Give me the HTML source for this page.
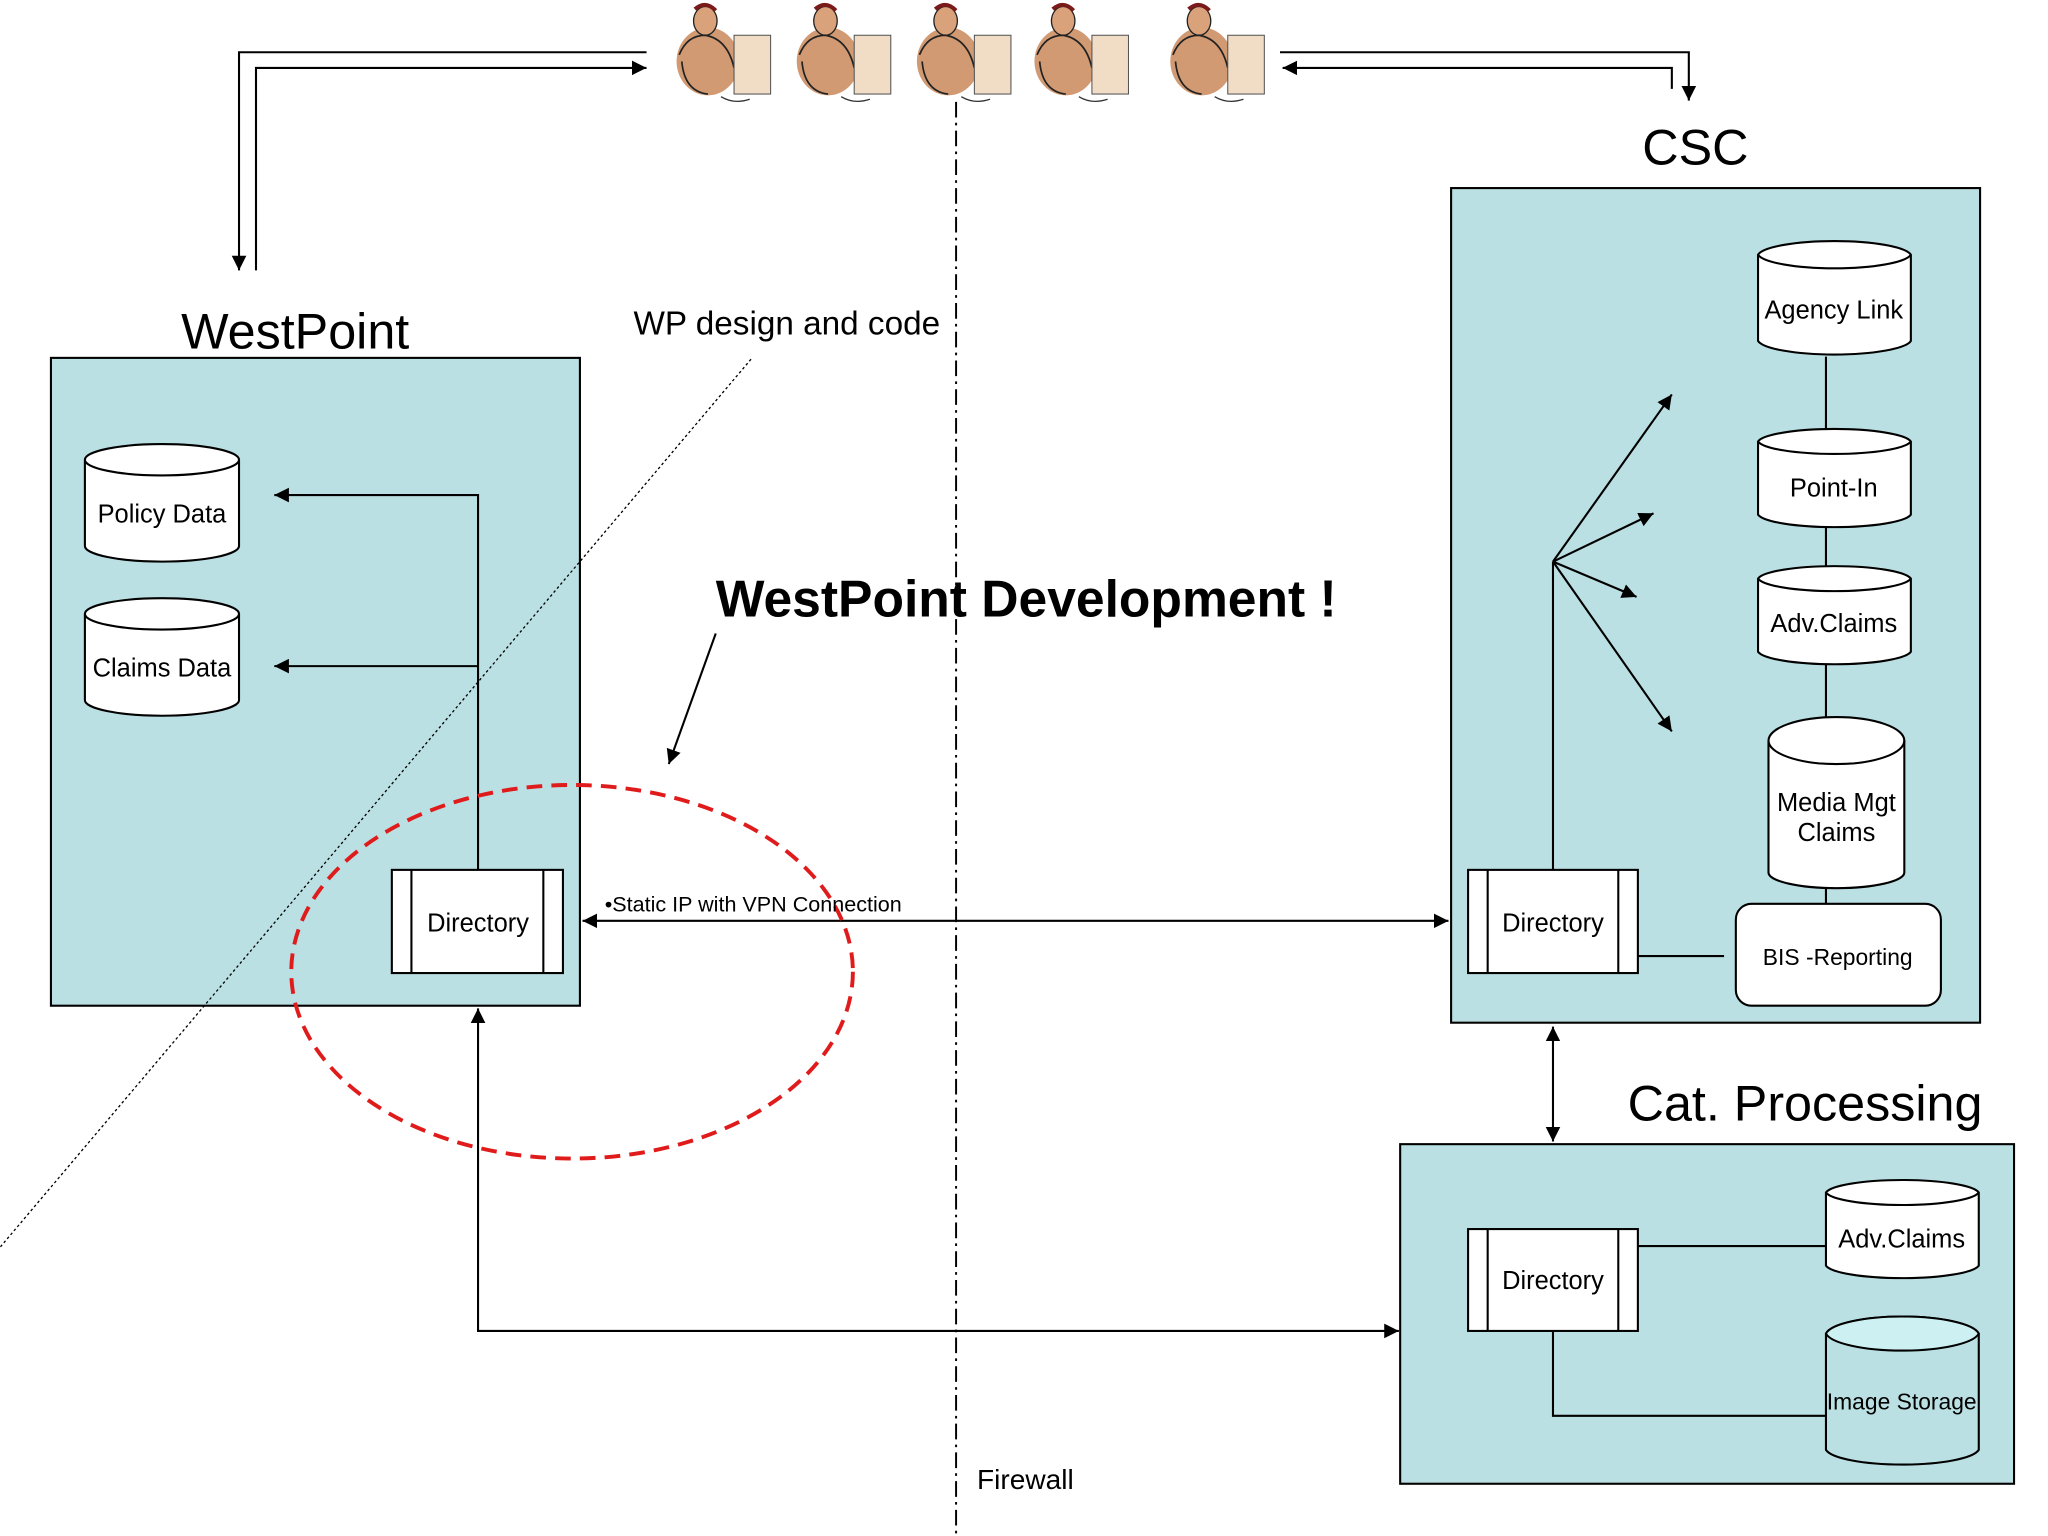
<!DOCTYPE html>
<html><head><meta charset="utf-8"><style>html,body{margin:0;padding:0;background:#fff}svg{display:block}</style></head>
<body>
<svg width="2048" height="1536" viewBox="0 0 1568 1176" preserveAspectRatio="none" xmlns="http://www.w3.org/2000/svg" font-family="Liberation Sans, sans-serif">
<defs>
<marker id="a" viewBox="0 0 10 10" refX="10" refY="5" markerWidth="7" markerHeight="7" orient="auto-start-reverse"><path d="M0,0L10,5L0,10z" fill="#000"/></marker>
<g id="fig">
<ellipse cx="30" cy="45" rx="24" ry="26" fill="#c9885a" opacity="0.85"/>
<ellipse cx="28" cy="14" rx="9" ry="11" fill="#d9a27a" stroke="#222" stroke-width="1"/>
<path d="M20,5 Q28,-2 36,6" stroke="#7a1a1a" stroke-width="3" fill="none"/>
<path d="M8,40 Q14,25 28,25 Q45,28 50,50 M10,45 Q12,68 30,70" stroke="#222" stroke-width="1.3" fill="none"/>
<rect x="50" y="25" width="28" height="45" fill="#f1dcc6" stroke="#555" stroke-width="0.8"/>
<path d="M40,72 Q50,78 62,74" stroke="#333" fill="none"/>
</g>
</defs>
<g stroke="#000" stroke-width="1.6" fill="none">
<polyline points="495,40 183,40 183,207" marker-end="url(#a)"/>
<polyline points="196,207 196,52 495,52" marker-end="url(#a)"/>
<polyline points="980,40 1293,40 1293,77" marker-end="url(#a)"/>
<polyline points="1280,68 1280,52 982,52" marker-end="url(#a)"/>
</g>
<use href="#fig" x="512" y="2"/><use href="#fig" x="604" y="2"/><use href="#fig" x="696" y="2"/><use href="#fig" x="786" y="2"/><use href="#fig" x="890" y="2"/>
<line x1="732" y1="78" x2="732" y2="1176" stroke="#000" stroke-width="1.5" stroke-dasharray="12,4,2,4"/>
<g fill="#bbe0e3" stroke="#000" stroke-width="1.6">
<rect x="39" y="274" width="405" height="496"/>
<rect x="1111" y="144" width="405" height="639"/>
<rect x="1072" y="876" width="470" height="260"/>
</g>
<g font-size="38.5" text-anchor="middle">
<text x="226" y="267">WestPoint</text>
<text x="1298" y="126">CSC</text>
<text x="1382" y="858">Cat. Processing</text>
</g>
<g stroke="#000" stroke-width="1.6" fill="none">
<line x1="1398" y1="273" x2="1398" y2="692"/>
<polyline points="366,666 366,379 210,379" marker-end="url(#a)"/>
<line x1="366" y1="510" x2="210" y2="510" marker-end="url(#a)"/>
<line x1="446" y1="705" x2="1109" y2="705" marker-start="url(#a)" marker-end="url(#a)"/>
<polyline points="1071,1019 366,1019 366,772" marker-start="url(#a)" marker-end="url(#a)"/>
<line x1="1189" y1="786" x2="1189" y2="874" marker-start="url(#a)" marker-end="url(#a)"/>
<line x1="1189" y1="666" x2="1189" y2="430"/>
<line x1="1189" y1="430" x2="1280" y2="302" marker-end="url(#a)"/>
<line x1="1189" y1="430" x2="1266" y2="393" marker-end="url(#a)"/>
<line x1="1189" y1="430" x2="1253" y2="457" marker-end="url(#a)"/>
<line x1="1189" y1="430" x2="1280" y2="560" marker-end="url(#a)"/>
<line x1="1254" y1="732" x2="1320" y2="732"/>
<line x1="1254" y1="954" x2="1398" y2="954"/>
<polyline points="1189,1019 1189,1084 1398,1084"/>
<line x1="548" y1="485" x2="512" y2="585" marker-end="url(#a)"/>
</g>
<g stroke="#000" stroke-width="1.6" fill="#fff">
<path d="M65,352 A59,12 0 0 1 183,352 V418 A59,12 0 0 1 65,418 Z"/><path d="M65,352 A59,12 0 0 0 183,352" fill="none"/>
<path d="M65,470 A59,12 0 0 1 183,470 V536 A59,12 0 0 1 65,536 Z"/><path d="M65,470 A59,12 0 0 0 183,470" fill="none"/>
<path d="M1346,195 A59,12 0 0 1 1463,195 V261 A59,12 0 0 1 1346,261 Z"/><path d="M1346,195 A59,12 0 0 0 1463,195" fill="none"/>
<path d="M1346,338 A59,11 0 0 1 1463,338 V394 A59,11 0 0 1 1346,394 Z"/><path d="M1346,338 A59,11 0 0 0 1463,338" fill="none"/>
<path d="M1346,443 A59,11 0 0 1 1463,443 V499 A59,11 0 0 1 1346,499 Z"/><path d="M1346,443 A59,11 0 0 0 1463,443" fill="none"/>
<path d="M1354,567 A52,18 0 0 1 1458,567 V668 A52,12 0 0 1 1354,668 Z"/><path d="M1354,567 A52,18 0 0 0 1458,567" fill="none"/>
<path d="M1398,913 A59,11 0 0 1 1515,913 V969 A59,11 0 0 1 1398,969 Z"/><path d="M1398,913 A59,11 0 0 0 1515,913" fill="none"/>
<path d="M1398,1021 A59,15 0 0 1 1515,1021 V1110 A59,13 0 0 1 1398,1110 Z" fill="#bbe0e3"/><path d="M1398,1021 A59,15 0 0 1 1515,1021 A59,15 0 0 1 1398,1021 Z" fill="#cdf1f3"/>
<rect x="1329" y="692" width="157" height="78" rx="12"/>
<rect x="300" y="666" width="131" height="79"/><line x1="315" y1="666" x2="315" y2="745"/><line x1="416" y1="666" x2="416" y2="745"/>
<rect x="1124" y="666" width="130" height="79"/><line x1="1139" y1="666" x2="1139" y2="745"/><line x1="1239" y1="666" x2="1239" y2="745"/>
<rect x="1124" y="941" width="130" height="78"/><line x1="1139" y1="941" x2="1139" y2="1019"/><line x1="1239" y1="941" x2="1239" y2="1019"/>
</g>
<g font-size="19.5" text-anchor="middle" fill="#000">
<text x="124" y="400">Policy Data</text>
<text x="124" y="518">Claims Data</text>
<text x="1404" y="244">Agency Link</text>
<text x="1404" y="380">Point-In</text>
<text x="1404" y="484">Adv.Claims</text>
<text x="1406" y="621">Media Mgt</text><text x="1406" y="644">Claims</text>
<text x="1456" y="955">Adv.Claims</text>
<text x="1456" y="1079" font-size="17.5">Image Storage</text>
<text x="1407" y="739" font-size="17.5">BIS -Reporting</text>
<text x="366" y="713">Directory</text>
<text x="1189" y="713">Directory</text>
<text x="1189" y="987">Directory</text>
</g>
<ellipse cx="438" cy="744" rx="215" ry="143" fill="none" stroke="#e01b1b" stroke-width="3" stroke-dasharray="12,7"/>
<line x1="575" y1="275" x2="0" y2="955" stroke="#000" stroke-width="1" stroke-dasharray="2,2"/>
<text x="485" y="256" font-size="25.5">WP design and code</text>
<text x="548" y="472" font-size="39.5" font-weight="bold">WestPoint Development !</text>
<text x="463" y="698" font-size="16.5">•Static IP with VPN Connection</text>
<text x="748" y="1140" font-size="21.5">Firewall</text>
</svg>
</body></html>
